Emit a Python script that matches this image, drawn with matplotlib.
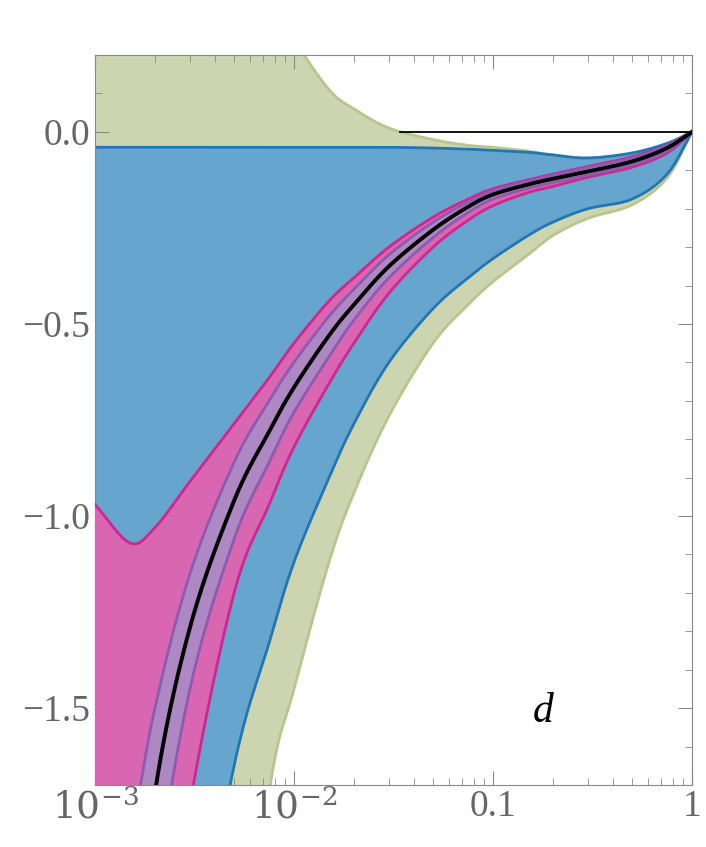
import numpy as np
import matplotlib.pyplot as plt
from matplotlib.ticker import FixedLocator, LogLocator, NullFormatter
plt.rcParams['mathtext.fontset'] = 'dejavuserif'

x = [0.001,0.0015,0.002,0.003,0.005,0.0075,0.01,0.015,0.02,0.03,0.05,0.075,0.1,0.15,0.2,0.3,0.5,0.75,1]
black = [-3.0,-2.3,-1.72,-1.29,-0.96,-0.78,-0.665,-0.53,-0.45,-0.35,-0.255,-0.195,-0.163,-0.137,-0.122,-0.103,-0.077,-0.042,0]
purple_hi = [-2.3,-1.85,-1.5,-1.15,-0.86,-0.70,-0.60,-0.48,-0.41,-0.32,-0.235,-0.183,-0.153,-0.128,-0.113,-0.093,-0.068,-0.036,0]
purple_lo = [-3.5,-2.7,-2.0,-1.45,-1.06,-0.86,-0.73,-0.585,-0.49,-0.38,-0.275,-0.21,-0.175,-0.147,-0.132,-0.112,-0.086,-0.05,0]
mag_hi = [-0.97,-1.07,-1.03,-0.91,-0.76,-0.64,-0.55,-0.44,-0.38,-0.30,-0.222,-0.175,-0.148,-0.125,-0.11,-0.09,-0.065,-0.035,0]
mag_lo = [-4,-3,-2.4,-1.75,-1.2,-0.97,-0.82,-0.655,-0.55,-0.42,-0.30,-0.23,-0.192,-0.158,-0.142,-0.118,-0.092,-0.055,0]
blue_hi = [-0.04,-0.04,-0.04,-0.04,-0.04,-0.04,-0.04,-0.04,-0.04,-0.04,-0.042,-0.045,-0.048,-0.053,-0.06,-0.068,-0.055,-0.03,0]
blue_lo = [-4,-3.5,-3,-2.3,-1.65,-1.33,-1.12,-0.9,-0.76,-0.6,-0.46,-0.38,-0.33,-0.27,-0.235,-0.2,-0.175,-0.11,0]
green_hi = [0.9,0.8,0.7,0.6,0.5,0.35,0.24,0.11,0.06,0.01,-0.02,-0.035,-0.04,-0.05,-0.06,-0.068,-0.055,-0.03,0]
green_lo = [-5,-4.5,-4,-3.3,-2.5,-1.72,-1.45,-1.12,-0.94,-0.74,-0.55,-0.45,-0.39,-0.32,-0.27,-0.225,-0.19,-0.12,0]

def smooth(ys, n=20):
    # Catmull-Rom drawing of the polyline in log-x space (rendering only)
    lx = np.log10(x); ys = np.asarray(ys, float)
    P = np.column_stack([lx, ys])
    P = np.vstack([2*P[0]-P[1], P, 2*P[-1]-P[-2]])
    out = []
    t = np.linspace(0, 1, n, endpoint=False)[:, None]
    for i in range(1, len(P)-2):
        p0, p1, p2, p3 = P[i-1], P[i], P[i+1], P[i+2]
        out.append(0.5*((2*p1) + (-p0+p2)*t + (2*p0-5*p1+4*p2-p3)*t**2 + (-p0+3*p1-3*p2+p3)*t**3))
    out.append(P[-2][None, :])
    o = np.vstack(out)
    return 10**o[:, 0], o[:, 1]

fig = plt.figure(figsize=(7.06,8.47), dpi=100)
ax = fig.add_axes([0.1346,0.0732,0.8454,0.8618])
ax.set_xscale('log')

def band(lo, hi, fc, ec, z):
    xl, yl = smooth(lo); xh, yh = smooth(hi)
    ax.fill(np.concatenate([xl, xh[::-1]]), np.concatenate([yl, yh[::-1]]), color=fc, lw=0, zorder=z)
    ax.plot(xl, yl, color=ec, lw=2, zorder=z+0.1)
    ax.plot(xh, yh, color=ec, lw=2, zorder=z+0.1)

band(green_lo, green_hi, '#cdd5b0', '#b8c68e', 1)
band(blue_lo, blue_hi, '#65a5ce', '#2176b5', 2)
band(mag_lo, mag_hi, '#d966b0', '#d0268e', 3)
band(purple_lo, purple_hi, '#ae88c3', '#8d5ab0', 4)
bx, by = smooth(black)
ax.plot(bx, by, color='black', lw=2.8, zorder=6)
ax.plot([0.034, 1], [0, 0], color='black', lw=1.3, zorder=5)

ax.set_xlim(1e-3, 1)
ax.set_ylim(-1.7, 0.2)
ax.text(0.178, -1.51, 'd', fontsize=30, style='italic', family='Liberation Serif', ha='center', va='center')

ax.xaxis.set_major_locator(FixedLocator([1e-3,1e-2,0.1,1]))
ax.xaxis.set_minor_locator(LogLocator(base=10, subs=np.arange(2, 10)))
ax.xaxis.set_minor_formatter(NullFormatter())
ax.set_xticklabels([r'$10^{-3}$', r'$10^{-2}$', '0.1', '1'])
ax.yaxis.set_major_locator(FixedLocator([0.0,-0.5,-1.0,-1.5]))
ax.set_yticklabels(['0.0','\u22120.5','\u22121.0','\u22121.5'])
ax.yaxis.set_minor_locator(FixedLocator(np.arange(-1.7,0.21,0.1)))
for lab in ax.get_xticklabels()+ax.get_yticklabels():
    lab.set_fontfamily('Liberation Serif'); lab.set_fontsize(27); lab.set_color('#666666')
ax.tick_params(which='both', direction='in', top=True, right=True, color='#888888')
ax.tick_params(which='major', length=10)
ax.tick_params(which='minor', length=5)
for s in ax.spines.values():
    s.set_color('#888888')
fig.savefig('out.png')
